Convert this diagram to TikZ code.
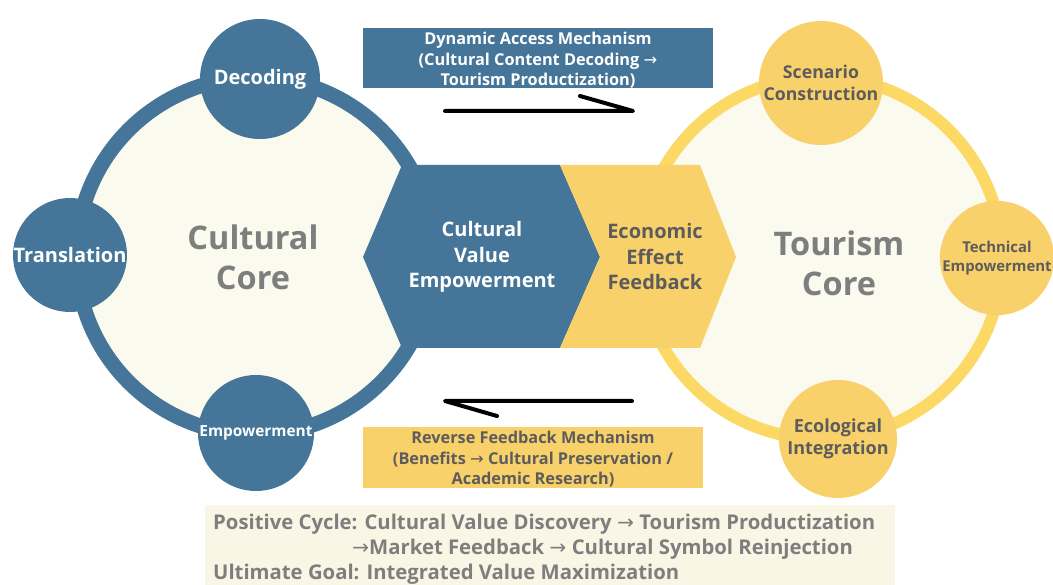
\documentclass[tikz,border=0pt]{standalone}
\usepackage{fontspec}
\setmainfont{Open Sans}
\newfontfamily\arrfont{DejaVu Sans}
\newcommand\rarr{{\arrfont\mdseries →}}
\definecolor{cblue}{RGB}{69,118,153}
\definecolor{cyel}{RGB}{249,209,107}
\definecolor{cring}{RGB}{252,217,100}
\definecolor{cream}{RGB}{250,250,238}
\definecolor{panel}{RGB}{250,246,230}
\definecolor{tgray}{RGB}{126,126,126}
\definecolor{tdark}{RGB}{92,92,92}
\newcommand\fsz[2]{\fontsize{#1}{#2}\selectfont}
\begin{document}
\begin{tikzpicture}[x=1pt,y=-1pt,
  bigring/.style={circle, inner sep=0pt, fill=cream},
  ball/.style={circle, inner sep=0pt, align=center, font=\bfseries},
  blueball/.style={ball, fill=cblue, text=white},
  yelball/.style={ball, fill=cyel, text=tdark},
  coretext/.style={align=center, text=tgray, font=\bfseries\fsz{32.5}{40}},
  hextext/.style={align=center, font=\bfseries\fsz{20}{25.5}},
  boxtext/.style={align=center, font=\bfseries\fsz{16.3}{20.5}, inner sep=0pt},
  arrowline/.style={line width=4pt, line cap=round, line join=round}]
\useasboundingbox (0,0) rectangle (1053,585);
\fill[white] (0,0) rectangle (1053,585);
% big rings
\node[bigring, draw=cblue, line width=15pt, minimum size=357pt] (lc) at (255,256) {};
\node[bigring, draw=cring, line width=12pt, minimum size=362pt] (rc) at (821,258) {};
% satellites
\node[blueball, minimum size=120pt, font=\bfseries\fsz{20}{24}] (dec) at (260,79) {Decoding};
\node[blueball, minimum size=114pt, font=\bfseries\fsz{20}{24}] (tra) at (70,255) {Translation};
\node[blueball, minimum size=116pt, font=\bfseries\fsz{15.4}{18}] (emp) at (256,433) {Empowerment};
\node[yelball, minimum size=124pt, font=\bfseries\fsz{17.7}{22}] (sce) at (821,83) {Scenario\\Construction};
\node[yelball, minimum size=114pt, font=\bfseries\fsz{14.9}{19.5}] (tec) at (997,258) {Technical\\Empowerment};
\node[yelball, minimum size=118pt, font=\bfseries\fsz{18}{21.5}] (eco) at (838,439) {Ecological\\Integration};
% core texts
\node[coretext] (ctc) at (253,257) {Cultural\\Core};
\node[coretext] (ttc) at (839,263) {Tourism\\Core};
% central hexagon
\fill[cblue] (402,165) -- (560,165) -- (600,257) -- (560,348) -- (402,348) -- (363,257) -- cycle;
\fill[cyel] (560,165) -- (700,165) -- (736,257) -- (700,348) -- (560,348) -- (600,257) -- cycle;
\node[hextext, text=white] (cve) at (482,257) {Cultural\\Value\\Empowerment};
\node[hextext, text=tdark] (eef) at (655,257) {Economic\\Effect\\Feedback};
% top box
\fill[cblue] (363,28) rectangle (713,88);
\node[boxtext, text=white] (dam) at (538,60.5) {Dynamic Access Mechanism\\(Cultural Content Decoding \rarr\\Tourism Productization)};
% bottom box
\fill[cyel] (363,427) rectangle (703,488);
\node[boxtext, text=tdark] (rfm) at (533,459.5) {Reverse Feedback Mechanism\\(Benefits \rarr{} Cultural Preservation /\\Academic Research)};
% arrows
\coordinate (t1) at (445,111);
\coordinate (t2) at (633,111);
\coordinate (t3) at (580,96);
\draw[arrowline] (t1) -- (t2) -- (t3);
\coordinate (b1) at (632,401);
\coordinate (b2) at (445,401);
\coordinate (b3) at (497,416);
\draw[arrowline] (b1) -- (b2) -- (b3);
% bottom panel
\fill[panel] (205,505) rectangle (895,585);
\node[anchor=west, inner sep=0pt, text=tgray, font=\bfseries\fsz{20.3}{25}, align=left] (pc) at (213,549)
  {Positive Cycle: Cultural Value Discovery \rarr{} Tourism Productization\\
   \hspace*{139pt}\rarr Market Feedback \rarr{} Cultural Symbol Reinjection\\
   Ultimate Goal: Integrated Value Maximization};
\end{tikzpicture}
\end{document}
